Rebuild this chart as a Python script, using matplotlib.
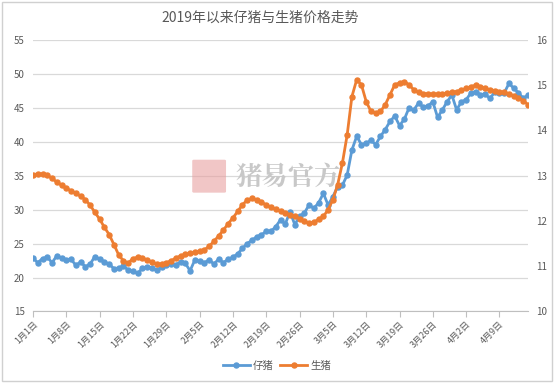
import matplotlib.pyplot as plt
from matplotlib.patches import Rectangle, FancyBboxPatch

plt.rcParams['font.family'] = ['Noto Sans CJK SC', 'DejaVu Sans']

title = '2019年以来仔猪与生猪价格走势'
tick_labels = ['1月1日', '1月8日', '1月15日', '1月22日', '1月29日', '2月5日', '2月12日',
               '2月19日', '2月26日', '3月5日', '3月12日', '3月19日', '3月26日', '4月2日', '4月9日']

# 仔猪 (left axis), one value per day from 1月1日
piglet = [22.85, 22.2, 22.8, 23.0, 22.2, 23.2, 22.9, 22.6, 22.7, 21.8,
          22.3, 21.6, 22.0, 23.1, 22.7, 22.3, 22.0, 21.3, 21.4, 21.7,
          21.1, 20.9, 20.6, 21.4, 21.6, 21.4, 21.1, 21.5, 21.8, 22.0,
          21.9, 22.3, 22.1, 21.0, 22.6, 22.4, 22.2, 22.6, 22.0, 22.7,
          22.2, 22.7, 23.0, 23.5, 24.3, 25.0, 25.5, 26.0, 26.3, 26.8,
          26.8, 27.5, 28.5, 27.9, 29.7, 27.8, 29.0, 29.5, 30.7, 30.2,
          31.0, 32.4, 30.7, 31.9, 33.4, 33.6, 35.1, 38.8, 40.8, 39.6,
          39.8, 40.2, 39.6, 40.8, 41.8, 43.0, 43.8, 42.4, 43.3, 45.0,
          44.7, 45.7, 45.1, 45.3, 45.9, 43.6, 44.7, 45.9, 46.9, 44.7,
          45.9, 46.2, 47.2, 47.4, 46.9, 47.0, 46.4, 47.3, 47.2, 47.2,
          48.6, 47.9, 47.2, 46.4, 46.9]

# 生猪 (right axis)
hog = [13.02, 13.04, 13.04, 13.01, 12.94, 12.86, 12.79, 12.72, 12.67, 12.61,
       12.55, 12.47, 12.35, 12.19, 12.04, 11.86, 11.70, 11.48, 11.25, 11.12,
       11.07, 11.17, 11.20, 11.18, 11.14, 11.09, 11.04, 11.05, 11.08, 11.12,
       11.18, 11.23, 11.26, 11.29, 11.31, 11.33, 11.36, 11.44, 11.55, 11.67,
       11.80, 11.94, 12.07, 12.21, 12.36, 12.46, 12.50, 12.47, 12.41, 12.36,
       12.30, 12.26, 12.22, 12.18, 12.14, 12.10, 12.05, 12.00, 11.95, 11.97,
       12.04, 12.10, 12.25, 12.47, 12.80, 13.28, 13.90, 14.75, 15.12, 15.01,
       14.64, 14.42, 14.38, 14.42, 14.57, 14.79, 15.01, 15.05, 15.08, 15.01,
       14.90, 14.84, 14.81, 14.81, 14.80, 14.80, 14.81, 14.82, 14.84, 14.86,
       14.89, 14.93, 14.97, 15.00, 14.97, 14.93, 14.90, 14.88, 14.86, 14.84,
       14.81, 14.77, 14.72, 14.66, 14.57]

blue = '#5B9BD5'
orange = '#ED7D31'
grey = '#595959'
grid = '#D9D9D9'

fig = plt.figure(figsize=(5.54, 3.83), dpi=100)
fig.patches.append(Rectangle((0.004, 0.004), 0.992, 0.992, transform=fig.transFigure,
                             fill=False, edgecolor='#D0D0D0', linewidth=1))

ax = fig.add_axes([0.0596, 0.1867, 0.8935, 0.7089])
ax2 = ax.twinx()

x = list(range(len(piglet)))
ax.plot(x, piglet, color=blue, linewidth=2, marker='o', markersize=3.6, label='仔猪', zorder=3)
ax2.plot(x, hog, color=orange, linewidth=2, marker='o', markersize=3.6, label='生猪', zorder=3)

ax.set_xlim(0, 104)
ax.set_ylim(15, 55)
ax.set_yticks(range(15, 56, 5))
ax2.set_ylim(10, 16)
ax2.set_yticks(range(10, 17))

ax.set_xticks(range(0, len(tick_labels) * 7, 7))
ax.set_xticklabels(tick_labels, rotation=45, ha='right', rotation_mode='anchor')

ax.grid(axis='y', color=grid, linewidth=0.9)
ax.set_axisbelow(True)
for a in (ax, ax2):
    for s in ('top', 'left', 'right'):
        a.spines[s].set_visible(False)
    a.spines['bottom'].set_color('#BFBFBF')
ax2.spines['bottom'].set_visible(False)

ax.tick_params(axis='y', length=0, labelsize=7, labelcolor=grey, pad=6)
ax2.tick_params(axis='y', length=0, labelsize=7, labelcolor=grey, pad=6)
ax.tick_params(axis='x', length=4, color='#BFBFBF', labelsize=6.5, labelcolor=grey, pad=2)

fig.text(0.469, 0.955, title, ha='center', va='center', fontsize=10, color=grey)

# watermark
fig.patches.append(FancyBboxPatch((0.35, 0.5), 0.055, 0.08, boxstyle='round,pad=0.003',
                                  transform=fig.transFigure, facecolor='#E8A0A0',
                                  edgecolor='none', alpha=0.6, zorder=0))
fig.text(0.425, 0.537, '猪易官方', fontsize=19, color='#C8C8C8', ha='left', va='center',
         family=['Noto Serif CJK SC', 'Noto Sans CJK SC'], fontweight='bold', zorder=1)

h1, l1 = ax.get_legend_handles_labels()
h2, l2 = ax2.get_legend_handles_labels()
fig.legend(h1 + h2, l1 + l2, loc='center', bbox_to_anchor=(0.5, 0.045), ncol=2,
           frameon=False, fontsize=7.5, labelcolor=grey, handlelength=2.6,
           columnspacing=0.6, handletextpad=0.3)

fig.savefig('out.png', dpi=100)
